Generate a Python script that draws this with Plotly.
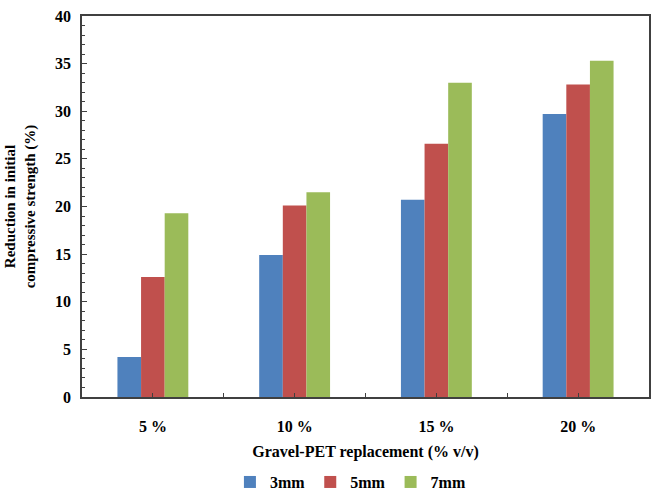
import plotly.graph_objects as go

categories = ["5%", "10%", "15%", "20%"]
series_names = ["3mm", "5mm", "7mm"]
v_3mm = [4.2, 14.9, 20.7, 29.7]
v_5mm = [12.6, 20.1, 26.6, 32.8]
v_7mm = [19.3, 21.5, 33.0, 35.3]
colors = ["#4F81BD", "#C0504D", "#9BBB59"]

font_family = "Liberation Serif"
xpos = list(range(len(categories)))

fig = go.Figure()
for name, vals, col in zip(series_names, [v_3mm, v_5mm, v_7mm], colors):
    fig.add_trace(go.Bar(x=xpos, y=vals, name=name, marker=dict(color=col, line=dict(width=0))))

fig.update_layout(
    width=655, height=498,
    margin=dict(l=82, r=6, t=16, b=101, autoexpand=False),
    paper_bgcolor="white", plot_bgcolor="white",
    barmode="group", bargap=0.5, bargroupgap=0,
    font=dict(family=font_family, color="black"),
    showlegend=True,
    legend=dict(orientation="h", x=0.535, xanchor="center", xref="container",
                y=0.032, yanchor="middle", yref="container",
                font=dict(size=16, family=font_family, weight="bold"),
                itemwidth=30, traceorder="normal", tracegroupgap=0),
)
fig.update_xaxes(
    range=[-0.5, 3.5], tickvals=xpos, ticktext=["<b>%s</b>" % c.replace("%", " %") for c in categories],
    ticks="inside", ticklen=4, tickcolor="#404040", tickwidth=1,
    minor=dict(dtick=0.5, tick0=-0.5, ticks="inside", ticklen=4, tickcolor="#404040"),
    showline=True, linecolor="#404040", linewidth=1.5, mirror=True,
    showgrid=False, zeroline=False, automargin=False,
    tickfont=dict(size=16, family=font_family), ticklabelstandoff=14,
    title=dict(text="<b>Gravel-PET replacement (% v/v)</b>", font=dict(size=16, family=font_family), standoff=12),
)
fig.update_yaxes(
    range=[0, 40], dtick=5, ticks="inside", ticklen=5, tickcolor="#404040",
    minor=dict(dtick=1, ticks="inside", ticklen=3, tickcolor="#404040"),
    showline=True, linecolor="#404040", linewidth=1.5, mirror=True,
    showgrid=False, zeroline=False, automargin=False,
    tickfont=dict(size=16, family=font_family, weight="bold"), ticklabelstandoff=6,
    title=dict(text="<b>Reduction in initial<br>compressive strength (%)</b>", font=dict(size=15, family=font_family), standoff=16),
)
fig.write_html("out.html")
